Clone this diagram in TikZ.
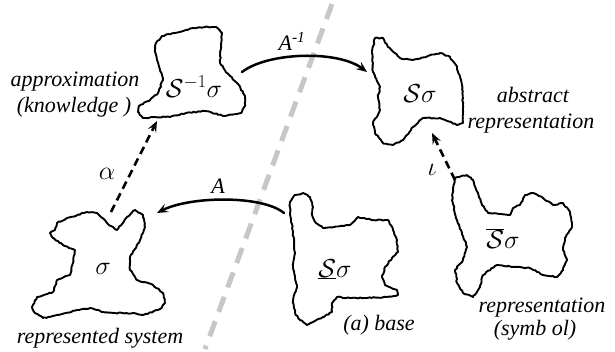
\RequirePackage{fix-cm}
\documentclass[tikz,border=0pt]{standalone}
\usepackage{fontspec}
\setmainfont{Liberation Serif}
\usetikzlibrary{arrows.meta,decorations.pathmorphing}

\begin{document}
\begin{tikzpicture}[x=1pt,y=-1pt,
  blob/.style={draw, line width=1.9pt, line join=round,
    decorate, decoration={random steps, segment length=2.2pt, amplitude=0.6pt}},
  maplink/.style={line width=2.5pt, line cap=round,
    -{Stealth[length=11pt,width=9pt,inset=4.5pt]}},
  dashlink/.style={line width=2.6pt, dash pattern=on 8pt off 5pt,
    -{Stealth[length=11pt,width=9pt,inset=4.5pt]}},
  caption/.style={font=\fontsize{22}{24}\selectfont\itshape, anchor=base, inner sep=0pt},
  symb/.style={font=\fontsize{26}{28}\selectfont, anchor=base, inner sep=0pt}]

\useasboundingbox (0,0) rectangle (615,351);
\pgfmathsetseed{4217}

% dividing line between the two worlds
\draw[line width=5pt, black!22, dash pattern=on 16pt off 10pt] (332,4) -- (205,349);

% S^{-1} sigma
\draw[blob] plot[sharp cycle] coordinates {
  (156,43) (162,36) (175,33) (193,28) (205,27) (216,27) (222,33) (221,45)
  (220,63) (227,73) (238,84) (245,96) (245,106) (241,113) (225,116) (205,111)
  (186,113) (170,117) (155,117) (143,118) (138,112) (139,106) (150,100) (158,93)
  (163,80) (160,70) (157,60) (155,50)};
% S sigma
\draw[blob] plot[sharp cycle] coordinates {
  (375,38) (383,38) (388,47) (400,58) (413,60) (428,56) (440,53) (450,57)
  (457,67) (462,85) (463,105) (463,123) (457,125) (440,118) (423,118) (413,127)
  (403,140) (393,145) (383,143) (375,133) (373,123) (380,110) (378,97) (380,87)
  (373,72) (372,53)};
% sigma
\draw[blob] plot[sharp cycle] coordinates {
  (57,223) (67,218) (87,212) (97,213) (107,223) (117,230) (127,217) (135,210)
  (143,215) (145,227) (140,240) (130,257) (130,270) (137,280) (153,285) (163,293)
  (165,303) (160,309) (143,315) (133,313) (113,313) (103,312) (90,308) (77,310)
  (57,315) (43,318) (35,313) (32,307) (37,297) (53,292) (57,280) (70,275)
  (73,263) (75,250) (63,245) (53,238) (50,233) (55,230)};
% underline S sigma
\draw[blob] plot[sharp cycle] coordinates {
  (290,202) (295,195) (303,193) (310,197) (313,207) (312,215) (316,223) (323,228)
  (340,226) (350,225) (358,217) (372,220) (388,220) (393,230) (397,240) (398,252)
  (392,258) (385,267) (382,277) (385,285) (397,290) (398,295) (387,297) (367,298)
  (350,298) (337,297) (332,303) (332,312) (323,317) (313,322) (307,325) (300,320)
  (295,313) (293,300) (297,287) (293,267) (295,253) (293,233) (290,213)};
% overline S sigma
\draw[blob] plot[sharp cycle] coordinates {
  (455,178) (467,175) (473,180) (478,193) (482,205) (488,213) (510,215) (513,208)
  (520,205) (525,195) (533,193) (543,198) (553,205) (563,203) (570,212) (572,227)
  (565,238) (563,250) (567,260) (563,270) (557,277) (543,275) (530,268) (513,267)
  (497,265) (483,275) (480,287) (473,297) (463,293) (457,283) (455,270) (463,260)
  (467,247) (462,233) (457,220) (452,200)};

% symbols inside the regions
\node[symb] (inv)  at (194,97)  {$\mathcal{S}^{-1}\sigma$};
\node[symb] (abs)  at (420,102) {$\mathcal{S}\sigma$};
\node[symb] (sys)  at (103,274) {$\sigma$};
\node[symb] (base) at (335,277) {$\underline{\mathcal{S}}\sigma$};
\node[symb] (rep)  at (503,248) {$\overline{\mathcal{S}}\sigma$};

% attachment points on the region borders
\coordinate (invOut) at (242,72);
\coordinate (absIn)  at (367,72);
\coordinate (baseOut) at (284,213);
\coordinate (sysIn)  at (157,213);
\coordinate (sysTop) at (111,212);
\coordinate (invIn)  at (157,121);
\coordinate (repTop) at (455,180);
\coordinate (absBot) at (432,133);

% mappings
\draw[maplink] (invOut) .. controls (268,52) and (338,50) .. (absIn);
\draw[maplink] (baseOut) .. controls (262,195) and (190,196) .. (sysIn);
\draw[dashlink] (sysTop) -- (invIn);
\draw[dashlink] (repTop) -- (absBot);

% mapping labels
\node[caption] (lAinv) at (292,50) {A\textsuperscript{-1}};
\node[caption] (lA)    at (218,193) {A};
\node[symb]    (lal)   at (107,179) {$\alpha$};
\node[symb]    (lio)   at (432,175) {$\iota$};

% captions
\node[caption] (c1) at (75,86)   {approximation};
\node[caption] (c2) at (74,112)  {(knowledge )};
\node[caption] (c3) at (533,102) {abstract};
\node[caption] (c4) at (531,128) {representation};
\node[caption] (c5) at (100,343) {represented system};
\node[caption] (c6) at (379,330) {(a) base};
\node[caption] (c7) at (542,312) {representation};
\node[caption] (c8) at (535,335) {(symb ol)};
\end{tikzpicture}
\end{document}
